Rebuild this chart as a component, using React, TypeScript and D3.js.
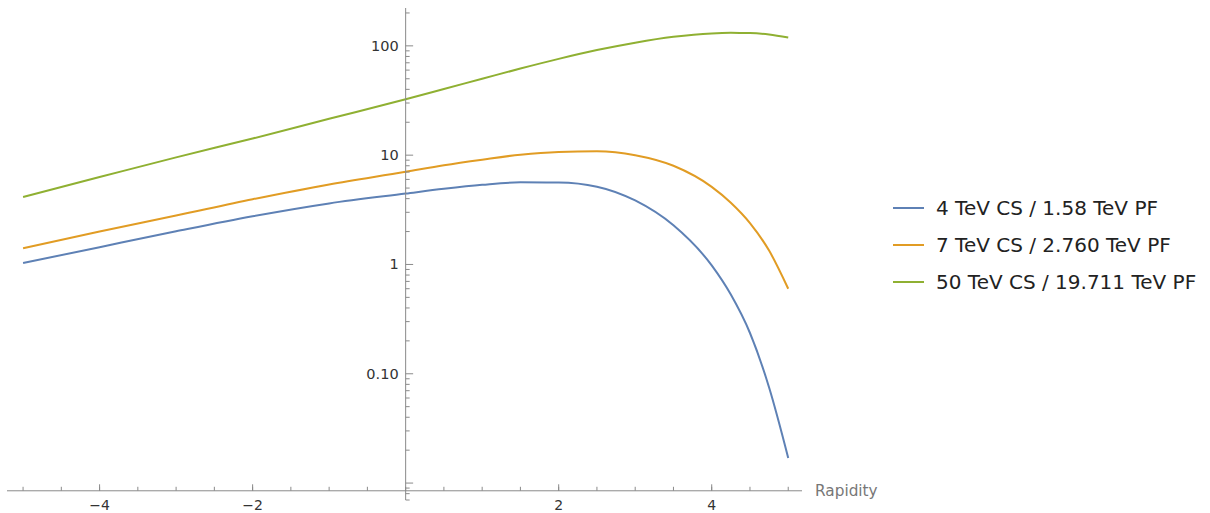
import * as d3 from "d3";

const rapidity = [-5, -4, -3, -2, -1, 0, 0.5, 1, 1.5, 2, 2.5, 3, 3.5, 4, 4.25, 4.5, 4.75, 5];
const cs4 = [1.03, 1.44, 2.01, 2.76, 3.62, 4.45, 4.92, 5.35, 5.64, 5.62, 5.15, 3.85, 2.28, 0.98, 0.53, 0.236, 0.075, 0.017];
const cs7 = [1.41, 2.0, 2.8, 3.95, 5.4, 7.05, 8.1, 9.1, 10.1, 10.7, 10.85, 10.0, 8.0, 5.13, 3.67, 2.39, 1.34, 0.6];
const cs50 = [4.15, 6.3, 9.55, 14.2, 21.5, 32.5, 40.3, 50, 62, 76, 91.5, 107, 121, 130, 131.5, 131, 127, 119];

const seriesNames = ["4 TeV CS / 1.58 TeV PF", "7 TeV CS / 2.760 TeV PF", "50 TeV CS / 19.711 TeV PF"];
const seriesColors = ["#5e81b5", "#e19c24", "#8fb032"];
const seriesValues = [cs4, cs7, cs50];

const xMajor = [-4, -2, 2, 4];
const xMinor = d3.range(-5, 5.01, 0.5);
const yMajor = [0.01, 0.1, 1, 10, 100];
const yLabels = ["", "0.10", "1", "10", "100"];

const W = 1210;
const H = 513;
const font = "'DejaVu Sans', sans-serif";
const axisColor = "#8a8a8a";

export default function App() {
  const x = d3.scaleLinear().domain([-5.21, 5.18]).range([7, 802]);
  const y = d3.scaleLog().domain([0.007, 222]).range([500, 8]);
  const axisY = y(0.0085);
  const axisX = x(0);

  const yMinor: number[] = [];
  [0.001, 0.01, 0.1, 1, 10, 100].forEach((d) => {
    for (let k = 2; k <= 9; k++) {
      const v = d * k;
      if (v >= 0.007 && v <= 222) yMinor.push(v);
    }
  });

  const line = d3
    .line<number>()
    .x((_, i) => x(rapidity[i]))
    .y((d) => y(d))
    .curve(d3.curveMonotoneX);

  return (
    <svg width={W} height={H} style={{ position: "absolute", left: 0, top: 0 }} fontFamily={font}>
      <rect width={W} height={H} fill="#fff" />
      {seriesValues.map((vals, i) => (
        <path key={i} d={line(vals) || ""} fill="none" stroke={seriesColors[i]} strokeWidth={2} />
      ))}
      {/* x axis */}
      <line x1={x.range()[0]} x2={x.range()[1]} y1={axisY} y2={axisY} stroke={axisColor} />
      {xMinor.map((t) => (
        <line key={"xm" + t} x1={x(t)} x2={x(t)} y1={axisY} y2={axisY - 4} stroke={axisColor} />
      ))}
      {xMajor.map((t) => (
        <g key={"xM" + t}>
          <line x1={x(t)} x2={x(t)} y1={axisY} y2={axisY - 6.5} stroke={axisColor} />
          <text x={x(t)} y={axisY + 19} textAnchor="middle" fontSize={14} fill="#333">
            {t < 0 ? "\u2212" + Math.abs(t) : t}
          </text>
        </g>
      ))}
      <text x={815} y={axisY + 5} fontSize={15.3} fill="#777">Rapidity</text>
      {/* y axis */}
      <line x1={axisX} x2={axisX} y1={y.range()[0]} y2={y.range()[1]} stroke={axisColor} />
      {yMinor.map((t) => (
        <line key={"ym" + t} x1={axisX} x2={axisX + 4} y1={y(t)} y2={y(t)} stroke={axisColor} />
      ))}
      {yMajor.map((t, i) => (
        <g key={"yM" + t}>
          <line x1={axisX} x2={axisX + 7.5} y1={y(t)} y2={y(t)} stroke={axisColor} />
          <text x={axisX - 7} y={y(t) + 5} textAnchor="end" fontSize={14.5} fill="#333">
            {yLabels[i]}
          </text>
        </g>
      ))}
      {/* legend */}
      {seriesNames.map((n, i) => (
        <g key={n} transform={`translate(893, ${208 + i * 37})`}>
          <line x1={0} x2={31} y1={0} y2={0} stroke={seriesColors[i]} strokeWidth={2} />
          <text x={43} y={7} fontSize={20} fill="#222">{n}</text>
        </g>
      ))}
    </svg>
  );
}
